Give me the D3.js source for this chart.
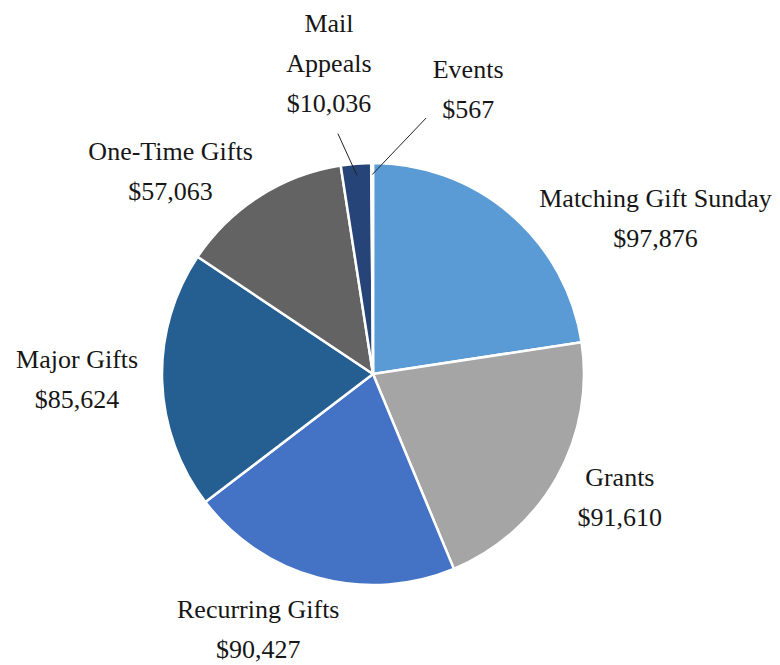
<!DOCTYPE html>
<html>
<head>
<meta charset="utf-8">
<script src="https://cdn.jsdelivr.net/npm/d3@7"></script>
<style>
  html, body { margin: 0; padding: 0; background: #fff; }
  #chart { width: 780px; height: 665px; }
</style>
</head>
<body>
<div id="chart"></div>
<script>
// -------------------------------
// Giving by source - pie chart
// -------------------------------

const categories = ["Matching Gift Sunday", "Grants", "Recurring Gifts", "Major Gifts", "One-Time Gifts", "Mail Appeals", "Events"];
const amounts = [97876, 91610, 90427, 85624, 57063, 10036, 567];
const sliceColors = ["#5B9BD5", "#A5A5A5", "#4472C4", "#255E91", "#636363", "#264478", "#7FA3DC"];

// labels that Excel wrapped onto two lines
const labelWrap = { "Mail Appeals": ["Mail", "Appeals"] };

// where each label sits, relative to the outer edge of its slice (dx = centre, dy = first baseline)
const labelNudge = [[145, -7], [63, 8], [-60, 40], [-85, -13], [-89, -36], [-27, -132], [96, -85]];
// leader lines only for the two thin slices: start point relative to label centre / last baseline
const leaderStart = [null, null, null, null, null, [9, 22], [-42, 0]];

const width = 780;
const height = 665;
const cx = 373, cy = 374;
const radius = 211;
const lineHeight = 40;
const fmt = d3.format("$,");

const svg = d3.select("#chart")
  .append("svg")
  .attr("width", width)
  .attr("height", height)
  .attr("viewBox", `0 0 ${width} ${height}`);

const g = svg.append("g").attr("transform", `translate(${cx},${cy})`);

const pie = d3.pie().sort(null).value(d => d);
const arcs = pie(amounts);

const arc = d3.arc().innerRadius(0).outerRadius(radius);

g.selectAll("path.slice")
  .data(arcs)
  .enter()
  .append("path")
  .attr("class", "slice")
  .attr("d", arc)
  .attr("fill", (d, i) => sliceColors[i])
  .attr("stroke", "#fff")
  .attr("stroke-width", 2.5)
  .attr("stroke-linejoin", "round");

// point on a circle of radius r at the slice's middle angle
function polar(d, r) {
  const a = (d.startAngle + d.endAngle) / 2;
  return [r * Math.sin(a), -r * Math.cos(a)];
}

arcs.forEach((d, i) => {
  const edge = polar(d, radius);
  const lx = edge[0] + labelNudge[i][0];
  const ly = edge[1] + labelNudge[i][1];
  const lines = (labelWrap[categories[i]] || [categories[i]]).concat([fmt(amounts[i])]);

  const text = g.append("text")
    .attr("text-anchor", "middle")
    .style("font-family", "'Liberation Serif', 'DejaVu Serif', serif")
    .style("font-size", "26px")
    .style("fill", "#161616");

  lines.forEach((t, k) => {
    text.append("tspan")
      .attr("x", lx)
      .attr("y", ly + k * lineHeight)
      .text(t);
  });

  if (leaderStart[i]) {
    const end = polar(d, radius * 0.945);
    const sx = lx + leaderStart[i][0];
    const sy = ly + (lines.length - 1) * lineHeight + leaderStart[i][1];
    g.append("line")
      .attr("x1", sx).attr("y1", sy)
      .attr("x2", end[0]).attr("y2", end[1])
      .attr("stroke", "#222")
      .attr("stroke-width", 1);
  }
});
</script>
</body>
</html>
